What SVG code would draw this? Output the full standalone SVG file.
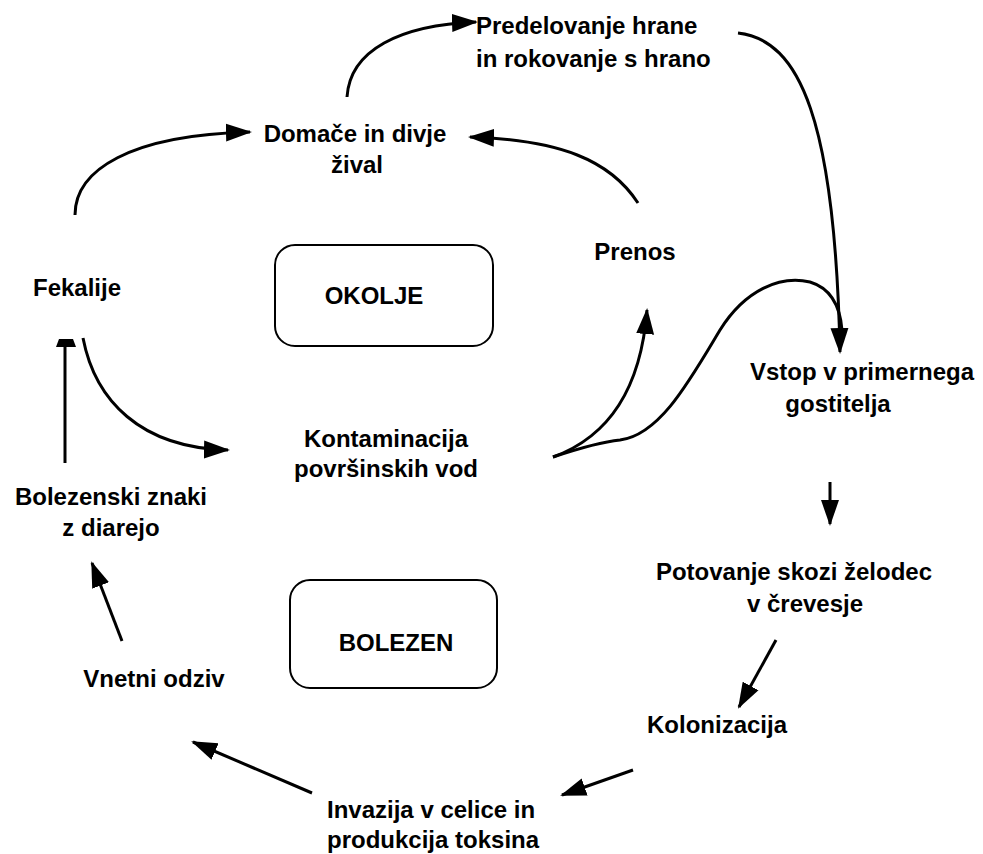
<svg xmlns="http://www.w3.org/2000/svg" width="983" height="854" viewBox="0 0 983 854">
<defs>
<style>
text{font-family:"Liberation Sans",Arial,sans-serif;font-weight:bold;font-size:24px;fill:#000}
.c{text-anchor:middle}
.conn path,.conn line{fill:none;stroke:#000;stroke-width:3}
.conn path.head{fill:#000;stroke:none}
.box{fill:#fff;stroke:#000;stroke-width:2}
</style>
<marker id="ah" markerUnits="userSpaceOnUse" markerWidth="26" markerHeight="20" viewBox="0 0 26 20" refX="24" refY="10" orient="auto">
<path d="M0,1 L26,10 L0,19 z" fill="#000"/>
</marker>
</defs>
<rect width="983" height="854" fill="#fff"/>
<g id="okolje"><rect class="box" x="275" y="245" width="218" height="101" rx="20"/><text class="c" x="374" y="304">OKOLJE</text></g>
<g id="bolezen"><rect class="box" x="290" y="580" width="207" height="108" rx="20"/><text class="c" x="396" y="651">BOLEZEN</text></g>
<g id="predelovanje"><text x="476" y="34">Predelovanje hrane</text><text x="476" y="67">in rokovanje s hrano</text></g>
<g id="domace"><text class="c" x="355" y="142">Domače in divje</text><text class="c" x="357" y="173">žival</text></g>
<g id="prenos"><text class="c" x="635" y="260">Prenos</text></g>
<g id="fekalije"><text class="c" x="77" y="296">Fekalije</text></g>
<g id="kontaminacija"><text class="c" x="386" y="447">Kontaminacija</text><text class="c" x="386" y="477">površinskih vod</text></g>
<g id="vstop"><text class="c" x="862" y="380">Vstop v primernega</text><text class="c" x="838" y="412">gostitelja</text></g>
<g id="bolezenski"><text class="c" x="111" y="505">Bolezenski znaki</text><text class="c" x="111" y="536">z diarejo</text></g>
<g id="potovanje"><text class="c" x="794" y="580">Potovanje skozi želodec</text><text class="c" x="805" y="612">v črevesje</text></g>
<g id="kolonizacija"><text class="c" x="717" y="733">Kolonizacija</text></g>
<g id="vnetni"><text class="c" x="154" y="687">Vnetni odziv</text></g>
<g id="invazija"><text x="327" y="818">Invazija v celice in</text><text x="327" y="848">produkcija toksina</text></g>
<g class="conn" id="connectors">
<path d="M75,215 C75,170 130,135 250,132" marker-end="url(#ah)"/>
<path d="M638,203 C610,160 560,140 470,137" marker-end="url(#ah)"/>
<path d="M347,97 C350,50 400,25 476,22" marker-end="url(#ah)"/>
<path d="M738,33 C800,40 835,120 840,352" marker-end="url(#ah)"/>
<path d="M553,457 C600,440 640,400 647,310" marker-end="url(#ah)"/>
<path d="M553,457 C580,448 600,442 620,440 C660,435 690,380 720,330 C745,290 780,275 810,282 C830,288 840,305 842,330"/>
<path d="M83,338 C95,400 140,448 228,450" marker-end="url(#ah)"/>
<line x1="65" y1="463" x2="65" y2="345"/>
<path class="head" d="M56,347 L59,339 L73,339 L76,347 z"/>
<line x1="830" y1="482" x2="830" y2="524" marker-end="url(#ah)"/>
<line x1="776" y1="640" x2="739" y2="707" marker-end="url(#ah)"/>
<line x1="633" y1="770" x2="562" y2="795" marker-end="url(#ah)"/>
<line x1="312" y1="793" x2="193" y2="742" marker-end="url(#ah)"/>
<line x1="122" y1="641" x2="92" y2="563" marker-end="url(#ah)"/>
</g>
</svg>
